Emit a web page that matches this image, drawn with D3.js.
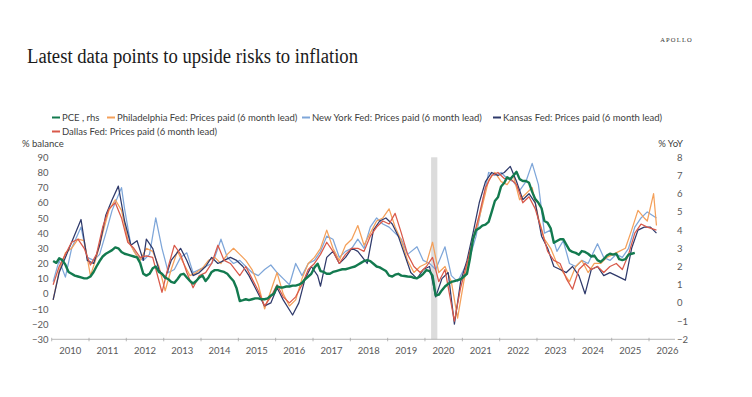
<!DOCTYPE html>
<html>
<head>
<meta charset="utf-8">
<script src="https://cdn.jsdelivr.net/npm/d3@7"></script>
<style>
  body { margin: 0; background: #fff; }
  svg text { font-family: "Lato", "Open Sans", sans-serif; }
</style>
</head>
<body>
<svg id="chart"></svg>
<script>
// PCE y/y, monthly from Jan 2010 (right axis)
const pceStart = "2010-01";
const pce = [
  2.3, 2.2, 2.45, 2.35, 2.1, 1.7, 1.6, 1.5, 1.45, 1.4, 1.35, 1.35,
  1.45, 1.7, 2.0, 2.3, 2.55, 2.7, 2.8, 2.9, 3.05, 3.0, 2.8, 2.7,
  2.65, 2.6, 2.55, 2.5, 2.2, 1.6, 1.5, 1.6, 1.9, 2.0, 1.7, 1.6,
  1.4, 1.3, 1.15, 1.1, 1.3, 1.55, 1.6, 1.4, 1.2, 1.07, 1.2, 1.4,
  1.5, 1.2, 1.4, 1.7, 1.8, 1.8, 1.75, 1.7, 1.6, 1.4, 1.2, 0.8,
  0.1, 0.15, 0.2, 0.15, 0.2, 0.25, 0.25, 0.2, 0.2, 0.25, 0.4, 0.5,
  0.9, 0.85, 0.85, 0.9, 0.9, 0.95, 0.95, 1.0, 1.1, 1.3, 1.45, 1.6,
  1.95, 2.15, 1.75, 1.7, 1.6, 1.6, 1.7, 1.75, 1.8, 1.85, 1.85, 1.9,
  1.95, 2.0, 2.1, 2.2, 2.3, 2.35, 2.3, 2.15, 2.0, 1.95, 1.85, 1.75,
  1.5, 1.45, 1.55, 1.6, 1.5, 1.48, 1.45, 1.44, 1.38, 1.35, 1.45, 1.6,
  1.8, 1.75, 1.5, 0.4, 0.45, 0.7, 0.9, 1.05, 1.15, 1.2, 1.25, 1.3,
  1.45, 1.6, 2.4, 3.5, 4.0, 4.1, 4.25, 4.3, 4.45, 5.0, 5.6, 5.8,
  6.4, 6.6, 6.9, 6.8, 7.0, 7.2, 6.8, 6.7, 6.7, 6.6, 6.1, 5.7,
  5.5, 5.2, 4.5, 4.4, 4.1, 3.3, 3.4, 3.5, 3.5, 3.2, 2.9, 2.8,
  2.75, 2.65, 2.85, 2.8, 2.7, 2.55, 2.6, 2.35, 2.25, 2.4, 2.6, 2.7,
  2.65, 2.7, 2.4, 2.35, 2.4, 2.65, 2.7, 2.75
];

// Prices paid, % balance, shifted 6 months ahead (left axis)
const philly = [
  ["2010-01",-4],["2010-03",15],["2010-05",27],["2010-07",30],["2010-09",36],["2010-11",35],
  ["2011-01",12],["2011-03",24],["2011-05",40],["2011-07",55],["2011-09",62],["2011-11",55],
  ["2012-01",36],["2012-03",28],["2012-05",22],["2012-07",30],["2012-09",28],["2012-11",18],
  ["2013-01",2],["2013-03",16],["2013-05",28],["2013-07",20],["2013-09",12],["2013-11",14],
  ["2014-01",17],["2014-03",22],["2014-05",24],["2014-07",20],["2014-09",26],["2014-11",30],
  ["2015-01",26],["2015-03",22],["2015-05",16],["2015-07",6],["2015-09",-10],["2015-11",2],
  ["2016-01",14],["2016-03",0],["2016-05",-8],["2016-07",-4],["2016-09",10],["2016-11",20],
  ["2017-01",24],["2017-03",30],["2017-05",42],["2017-07",30],["2017-09",22],["2017-11",32],
  ["2018-01",36],["2018-03",45],["2018-05",32],["2018-07",40],["2018-09",48],["2018-11",50],
  ["2019-01",56],["2019-03",44],["2019-05",35],["2019-07",22],["2019-09",14],["2019-11",18],
  ["2020-01",20],["2020-03",34],["2020-05",14],["2020-07",18],["2020-09",8],["2020-11",-16],
  ["2021-01",8],["2021-03",28],["2021-05",42],["2021-07",58],["2021-09",75],["2021-11",80],
  ["2022-01",74],["2022-03",72],["2022-05",78],["2022-07",62],["2022-09",66],["2022-11",70],
  ["2023-01",50],["2023-03",36],["2023-05",30],["2023-07",20],["2023-09",14],["2023-11",8],
  ["2024-01",18],["2024-03",22],["2024-05",14],["2024-07",20],["2024-09",20],["2024-11",24],
  ["2025-01",26],["2025-03",28],["2025-05",30],["2025-07",42],["2025-09",55],["2025-11",50],
  ["2025-12",48],["2026-02",66],["2026-03",45]
];
const newYork = [
  ["2010-01",8],["2010-03",22],["2010-05",11],["2010-07",30],["2010-10",44],["2010-12",24],
  ["2011-02",22],["2011-04",26],["2011-06",40],["2011-08",55],["2011-11",70],["2011-12",56],
  ["2012-02",32],["2012-04",25],["2012-06",22],["2012-08",26],["2012-10",50],["2012-12",30],
  ["2013-02",14],["2013-04",16],["2013-06",24],["2013-08",27],["2013-10",14],["2013-12",16],
  ["2014-02",18],["2014-04",20],["2014-05",24],["2014-07",36],["2014-09",24],["2014-11",20],
  ["2015-01",22],["2015-03",18],["2015-05",14],["2015-07",12],["2015-09",16],["2015-11",19],
  ["2016-01",14],["2016-03",10],["2016-05",6],["2016-07",20],["2016-09",12],["2016-11",20],
  ["2017-01",22],["2017-03",28],["2017-05",38],["2017-07",36],["2017-09",24],["2017-11",28],
  ["2018-01",30],["2018-03",36],["2018-05",30],["2018-07",44],["2018-09",50],["2018-11",46],
  ["2019-01",44],["2019-03",40],["2019-05",36],["2019-07",26],["2019-10",31],["2019-12",22],
  ["2020-02",20],["2020-04",16],["2020-07",31],["2020-09",12],["2020-11",8],["2021-01",16],
  ["2021-03",24],["2021-05",38],["2021-07",60],["2021-09",80],["2021-11",78],["2022-01",80],
  ["2022-03",76],["2022-05",74],["2022-07",68],["2022-09",74],["2022-11",86],["2023-01",72],
  ["2023-03",40],["2023-05",42],["2023-07",28],["2023-09",35],["2023-11",20],["2024-01",18],
  ["2024-03",22],["2024-05",20],["2024-08",33],["2024-10",24],["2024-12",22],["2025-02",26],
  ["2025-04",24],["2025-06",30],["2025-08",44],["2025-10",50],["2025-12",54],["2026-03",50]
];
const kansas = [
  ["2010-01",-4],["2010-03",14],["2010-05",24],["2010-07",34],["2010-10",49],["2010-12",22],
  ["2011-02",20],["2011-04",32],["2011-06",52],["2011-08",62],["2011-10",71],["2011-12",48],
  ["2012-02",32],["2012-04",35],["2012-06",22],["2012-07",36],["2012-09",30],["2012-11",16],
  ["2013-01",10],["2013-03",22],["2013-06",30],["2013-08",22],["2013-10",12],["2013-12",14],
  ["2014-02",18],["2014-04",24],["2014-06",20],["2014-08",22],["2014-10",24],["2014-12",22],
  ["2015-02",18],["2015-04",12],["2015-06",4],["2015-09",-8],["2015-11",-6],["2016-01",4],
  ["2016-03",-4],["2016-06",-14],["2016-08",-6],["2016-10",10],["2016-12",18],["2017-02",12],
  ["2017-03",5],["2017-05",24],["2017-07",28],["2017-09",20],["2017-11",24],["2018-01",30],
  ["2018-03",28],["2018-06",20],["2018-08",42],["2018-10",48],["2018-12",50],["2019-02",46],
  ["2019-04",38],["2019-06",26],["2019-08",14],["2019-10",10],["2019-12",16],["2020-02",18],
  ["2020-04",-2],["2020-06",10],["2020-08",14],["2020-10",-20],["2020-12",8],["2021-02",22],
  ["2021-04",40],["2021-06",60],["2021-08",74],["2021-10",80],["2021-12",78],["2022-02",80],
  ["2022-04",84],["2022-06",74],["2022-08",62],["2022-10",66],["2022-12",60],["2023-02",38],
  ["2023-04",30],["2023-06",18],["2023-08",16],["2023-10",14],["2023-12",18],["2024-02",12],
  ["2024-04",0],["2024-06",16],["2024-08",18],["2024-10",12],["2024-12",14],["2025-02",12],
  ["2025-05",9],["2025-07",30],["2025-09",42],["2025-11",44],["2026-01",44],["2026-03",40]
];
const dallas = [
  ["2010-01",6],["2010-03",18],["2010-05",26],["2010-07",34],["2010-09",36],["2010-11",30],
  ["2011-01",19],["2011-03",26],["2011-05",44],["2011-07",56],["2011-09",60],["2011-11",50],
  ["2012-01",34],["2012-03",30],["2012-05",24],["2012-07",25],["2012-09",24],["2012-12",1],
  ["2013-02",18],["2013-04",32],["2013-06",26],["2013-08",14],["2013-10",4],["2013-12",12],
  ["2014-02",14],["2014-04",20],["2014-06",32],["2014-08",22],["2014-10",20],["2015-01",12],
  ["2015-03",18],["2015-05",10],["2015-07",2],["2015-09",-8],["2015-11",-2],["2016-01",6],
  ["2016-03",-2],["2016-05",-6],["2016-07",-2],["2016-09",6],["2016-11",16],["2017-01",20],
  ["2017-03",26],["2017-05",34],["2017-07",28],["2017-09",20],["2017-11",26],["2018-01",30],
  ["2018-03",30],["2018-05",28],["2018-07",38],["2018-09",44],["2018-11",48],["2019-01",46],
  ["2019-03",53],["2019-05",40],["2019-07",26],["2019-09",18],["2019-11",14],["2020-01",18],
  ["2020-03",24],["2020-05",8],["2020-07",16],["2020-10",-18],["2020-12",4],["2021-02",20],
  ["2021-04",36],["2021-06",52],["2021-08",70],["2021-10",78],["2021-12",80],["2022-02",76],
  ["2022-04",76],["2022-06",72],["2022-08",60],["2022-10",64],["2022-12",56],["2023-02",42],
  ["2023-04",28],["2023-06",22],["2023-08",20],["2023-10",10],["2023-12",3],["2024-02",16],
  ["2024-04",20],["2024-06",16],["2024-08",18],["2024-10",14],["2024-12",18],["2025-02",20],
  ["2025-04",16],["2025-06",26],["2025-08",40],["2025-10",46],["2025-12",44],["2026-03",42]
];

const yearTicks = d3.range(2010, 2027);
const leftTicks = d3.range(-30, 91, 10);
const rightTicks = d3.range(-2, 9, 1);
const recession = ["2020-03", "2020-05"];

const seriesInfo = [
  { name: "PCE , rhs", color: "#137a4f" },
  { name: "Philadelphia Fed: Prices paid (6 month lead)", color: "#f4a05a" },
  { name: "New York Fed: Prices paid (6 month lead)", color: "#7ea6d9" },
  { name: "Kansas Fed: Prices paid (6 month lead)", color: "#2f3a6b" },
  { name: "Dallas Fed: Prices paid (6 month lead)", color: "#d9594a" }
];

const W = 752, H = 397;
const svg = d3.select("#chart").attr("width", W).attr("height", H);
svg.append("rect").attr("width", W).attr("height", H).attr("fill", "#fff");

const parseMonth = d3.timeParse("%Y-%m");
// monthly observations are drawn mid-month
const monthDate = s => d3.timeDay.offset(parseMonth(s), 14);
const x = d3.scaleTime()
  .domain([new Date(2010, 0, 1), new Date(2027, 0, 1)])
  .range([51.7, 51.7 + 17 * 37.33]);
const yL = d3.scaleLinear().domain([-30, 90]).range([339.3, 157.3]);
const yR = d3.scaleLinear().domain([-2, 8]).range([339.3, 157.3]);

// title + brand
svg.append("text")
  .attr("x", 27).attr("y", 63)
  .style("font-family", "'Liberation Serif', 'DejaVu Serif', serif")
  .style("font-size", "20px")
  .attr("textLength", 331).attr("lengthAdjust", "spacingAndGlyphs")
  .attr("fill", "#1a1a1a")
  .text("Latest data points to upside risks to inflation");
svg.append("text")
  .attr("x", 693).attr("y", 42).attr("text-anchor", "end")
  .style("font-family", "'Liberation Serif', serif")
  .style("font-size", "6.5px").style("letter-spacing", "1.2px")
  .attr("fill", "#333")
  .text("APOLLO");

// recession shading
svg.append("rect")
  .attr("x", x(parseMonth(recession[0])))
  .attr("width", x(parseMonth(recession[1])) - x(parseMonth(recession[0])))
  .attr("y", yL(90)).attr("height", yL(-30) - yL(90))
  .attr("fill", "#dcdcdc");

// x axis
const xAxisG = svg.append("g").attr("transform", `translate(0,${yL(-30)})`);
xAxisG.append("line").attr("x1", x(new Date(2010, 0, 1))).attr("x2", 675)
  .attr("stroke", "#a6a6a6").attr("stroke-width", 0.8);
xAxisG.selectAll(".tk").data(yearTicks).join("line")
  .attr("class", "tk")
  .attr("x1", d => x(new Date(d, 0, 1))).attr("x2", d => x(new Date(d, 0, 1)))
  .attr("y1", -1.5).attr("y2", 2)
  .attr("stroke", "#a6a6a6").attr("stroke-width", 0.8);
xAxisG.selectAll(".yl").data(yearTicks).join("text")
  .attr("class", "yl")
  .attr("x", d => x(new Date(d, 6, 1))).attr("y", 15)
  .attr("text-anchor", "middle").attr("fill", "#595959")
  .style("font-size", "9.5px")
  .text(d => d);

// y axes (labels only)
const yAxisL = d3.axisLeft(yL).tickValues(leftTicks).tickSize(0).tickPadding(0);
svg.append("g").attr("transform", "translate(48.5,0)").call(yAxisL)
  .call(g => g.select(".domain").remove())
  .call(g => g.selectAll("text").attr("fill", "#595959").style("font-size", "9.5px")
    .style("font-family", "Lato, 'Open Sans', sans-serif"));
const yAxisR = d3.axisRight(yR).tickValues(rightTicks).tickSize(0).tickPadding(0);
svg.append("g").attr("transform", "translate(677,0)").call(yAxisR)
  .call(g => g.select(".domain").remove())
  .call(g => g.selectAll("text").attr("fill", "#595959").style("font-size", "9.5px")
    .style("font-family", "Lato, 'Open Sans', sans-serif"));

svg.append("text").attr("x", 22).attr("y", 147).attr("fill", "#404040")
  .style("font-size", "9.5px").text("% balance");
svg.append("text").attr("x", 683).attr("y", 147).attr("text-anchor", "end")
  .attr("fill", "#404040").style("font-size", "9.5px").text("% YoY");

// lines
const lineL = d3.line().x(d => x(monthDate(d[0]))).y(d => yL(d[1]));
const surveys = [newYork, philly, kansas, dallas];
const surveyColors = [seriesInfo[2].color, seriesInfo[1].color, seriesInfo[3].color, seriesInfo[4].color];
surveys.forEach((s, i) => {
  svg.append("path").datum(s)
    .attr("fill", "none").attr("stroke", surveyColors[i])
    .attr("stroke-width", 1.25).attr("stroke-linejoin", "round")
    .attr("d", lineL);
});

const pceStartDate = monthDate(pceStart);
const pceData = pce.map((v, i) => [d3.timeMonth.offset(pceStartDate, i), v]);
svg.append("path").datum(pceData)
  .attr("fill", "none").attr("stroke", seriesInfo[0].color)
  .attr("stroke-width", 2.4).attr("stroke-linejoin", "round")
  .attr("d", d3.line().x(d => x(d[0])).y(d => yR(d[1])));

// legend
const legendPos = [[52, 121], [107, 121], [302, 121], [493, 121], [52, 135]];
const leg = svg.append("g").selectAll("g").data(seriesInfo).join("g")
  .attr("transform", (d, i) => `translate(${legendPos[i][0]},${legendPos[i][1]})`);
leg.append("line").attr("x1", 0).attr("x2", 8).attr("y1", -3.5).attr("y2", -3.5)
  .attr("stroke", d => d.color).attr("stroke-width", 2);
leg.append("text").attr("x", 10).attr("y", 0).attr("fill", "#404040")
  .style("font-size", "9.5px").text(d => d.name);
</script>
</body>
</html>
